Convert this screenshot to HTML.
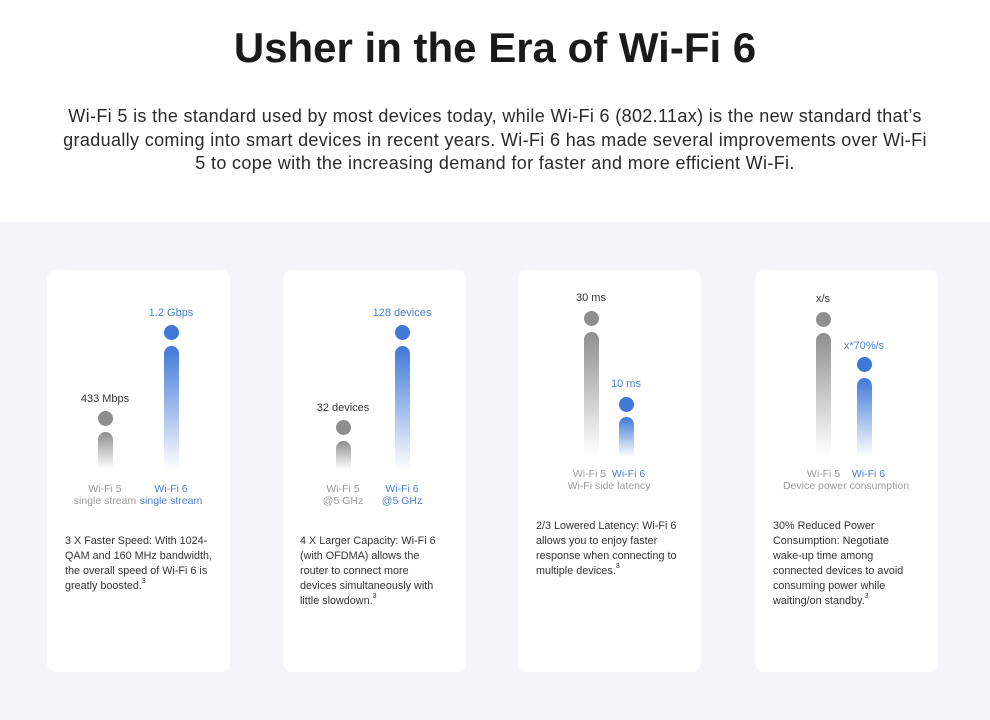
<!DOCTYPE html>
<html><head><style>
body{margin:0;width:990px;height:720px;overflow:hidden;background:#fff;font-family:"Liberation Sans",sans-serif;position:relative}
h1{position:absolute;top:24px;left:0;width:990px;margin:0;text-align:center;font-size:42px;font-weight:bold;color:#1a1a1a}
.p{position:absolute;top:105px;left:60px;width:870px;text-align:center;font-size:18px;letter-spacing:0.35px;line-height:23.5px;color:#2a2a2a}
.bg{position:absolute;top:222px;left:0;width:990px;height:498px;background:#f3f5f8}
.card{position:absolute;top:270px;width:183px;height:402px;background:#fff;border-radius:9px}
.dot{position:absolute;width:15px;height:15px;border-radius:50%}
.g{background:#8e8e8e}.b{background:#3f78d6}
.bar{position:absolute;width:15px;border-radius:8px 8px 0 0}
.bar.g{background:linear-gradient(#8e8e8e,rgba(200,200,200,0.15) 90%,rgba(255,255,255,0))}
.bar.b{background:linear-gradient(#3f78d6,rgba(120,160,230,0.35) 75%,rgba(255,255,255,0))}
.lab{position:absolute;font-size:10.5px;text-align:center;width:120px;margin-left:-60px}
.v{font-size:11px}
.gr{color:#999}.bl{color:#4a7fd8}.dk{color:#333}
.txt{position:absolute;font-size:10.8px;line-height:15px;color:#333;width:160px}
sup{font-size:7px;line-height:0;vertical-align:6px}
</style></head><body>
<h1>Usher in the Era of Wi-Fi 6</h1>
<div class="p">Wi-Fi 5 is the standard used by most devices today, while Wi-Fi 6 (802.11ax) is the new standard that’s gradually coming into smart devices in recent years. Wi-Fi 6 has made several improvements over Wi-Fi 5 to cope with the increasing demand for faster and more efficient Wi-Fi.</div>
<div class="bg"></div>
<div class="card" style="left:47px"></div>
<div class="card" style="left:283px"></div>
<div class="card" style="left:518px"></div>
<div class="card" style="left:755px"></div>

<div class="lab v dk" style="left:105px;top:393px">433 Mbps</div>
<div class="dot g" style="left:98px;top:411px"></div>
<div class="bar g" style="left:98px;top:432px;height:38px"></div>
<div class="lab v bl" style="left:171px;top:307px">1.2 Gbps</div>
<div class="dot b" style="left:164px;top:325px"></div>
<div class="bar b" style="left:164px;top:346px;height:124px"></div>
<div class="lab gr" style="left:105px;top:483px">Wi-Fi 5<br>single stream</div>
<div class="lab bl" style="left:171px;top:483px">Wi-Fi 6<br>single stream</div>
<div class="txt" style="left:65px;top:534px">3 X Faster Speed: With 1024-QAM and 160 MHz bandwidth, the overall speed of Wi-Fi 6 is greatly boosted.<sup>3</sup></div>

<div class="lab v dk" style="left:343px;top:402px">32 devices</div>
<div class="dot g" style="left:336px;top:420px"></div>
<div class="bar g" style="left:336px;top:441px;height:29px"></div>
<div class="lab v bl" style="left:402px;top:307px">128 devices</div>
<div class="dot b" style="left:395px;top:325px"></div>
<div class="bar b" style="left:395px;top:346px;height:124px"></div>
<div class="lab gr" style="left:343px;top:483px">Wi-Fi 5<br>@5 GHz</div>
<div class="lab bl" style="left:402px;top:483px">Wi-Fi 6<br>@5 GHz</div>
<div class="txt" style="left:300px;top:534px;width:145px">4 X Larger Capacity: Wi-Fi 6 (with OFDMA) allows the router to connect more devices simultaneously with little slowdown.<sup>3</sup></div>

<div class="lab v dk" style="left:591px;top:292px">30 ms</div>
<div class="dot g" style="left:584px;top:311px"></div>
<div class="bar g" style="left:584px;top:332px;height:125px"></div>
<div class="lab v bl" style="left:626px;top:378px">10 ms</div>
<div class="dot b" style="left:619px;top:397px"></div>
<div class="bar b" style="left:619px;top:417px;height:40px"></div>
<div class="lab" style="left:609px;top:468px;width:160px;margin-left:-80px"><span class="gr">Wi-Fi 5</span>&nbsp;&nbsp;<span class="bl">Wi-Fi 6</span><br><span class="gr">Wi-Fi side latency</span></div>
<div class="txt" style="left:536px;top:519px">2/3 Lowered Latency: Wi-Fi 6 allows you to enjoy faster response when connecting to multiple devices.<sup>3</sup></div>

<div class="lab v dk" style="left:823px;top:293px">x/s</div>
<div class="dot g" style="left:816px;top:312px"></div>
<div class="bar g" style="left:816px;top:333px;height:124px"></div>
<div class="lab v bl" style="left:864px;top:340px">x*70%/s</div>
<div class="dot b" style="left:857px;top:357px"></div>
<div class="bar b" style="left:857px;top:378px;height:79px"></div>
<div class="lab" style="left:846px;top:468px;width:180px;margin-left:-90px"><span class="gr">Wi-Fi 5</span>&nbsp;&nbsp;&nbsp;&nbsp;<span class="bl">Wi-Fi 6</span><br><span class="gr">Device power consumption</span></div>
<div class="txt" style="left:773px;top:519px;width:145px">30% Reduced Power Consumption: Negotiate wake-up time among connected devices to avoid consuming power while waiting/on standby.<sup>3</sup></div>
</body></html>
